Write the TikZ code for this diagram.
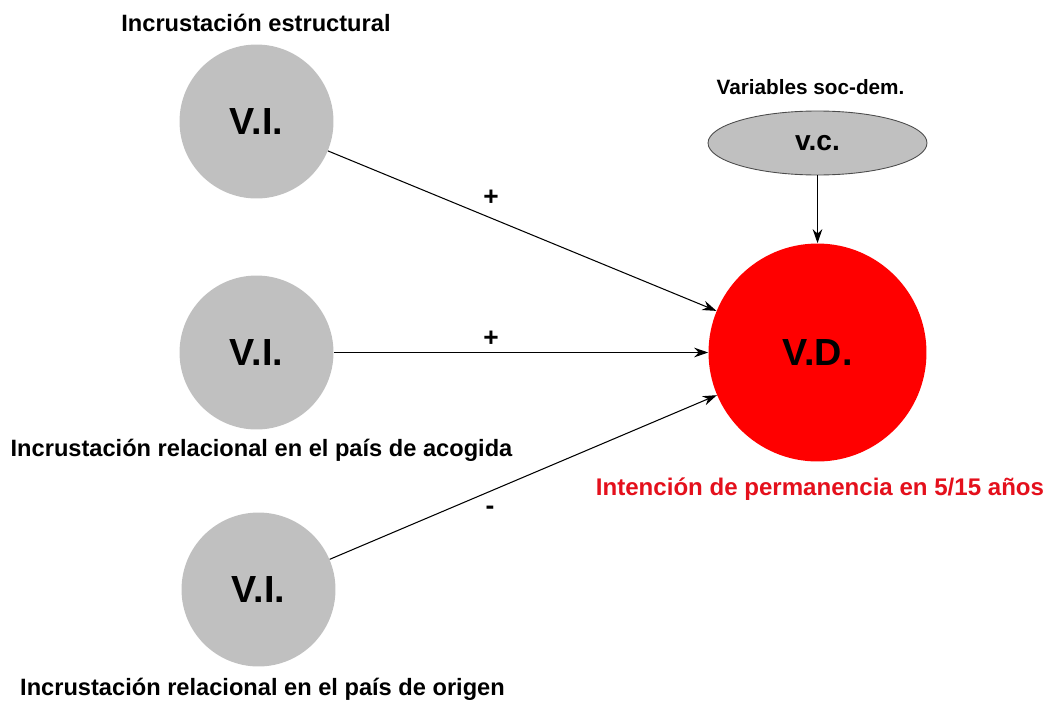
\documentclass[tikz,border=0pt]{standalone}
\usepackage{fontspec}
\setmainfont{Liberation Sans}
\usetikzlibrary{shapes.geometric}
\usetikzlibrary{arrows.meta}

\definecolor{viGray}{RGB}{192,192,192}
\definecolor{vdRed}{RGB}{255,0,0}
\definecolor{labelRed}{RGB}{228,16,28}

\begin{document}
\begin{tikzpicture}
[-,x=0.02cm,y=-0.02cm,%
  lineDecorate/.style={-{Stealth[length=8pt,width=5.5pt]},line width=0.6pt},%
  nodeDecorate/.style={shape=circle,fill=viGray,minimum size=3.08cm,inner sep=0pt,font=\fontsize{21.5}{24}\selectfont\bfseries},%
  textDecorate/.style={font=\fontsize{13.45}{16}\selectfont\bfseries},%
  signDecorate/.style={font=\fontsize{15}{18}\selectfont\bfseries}]
\useasboundingbox (0,0) rectangle (1050,706);
%% nodes
\foreach \nodename/\x/\y in {vi1/256.5/121.5, vi2/256.5/352.5, vi3/258.5/589.5}
{
  \node[nodeDecorate] (\nodename) at (\x,\y) {V.I.};
}
\node[shape=circle,fill=vdRed,minimum size=4.36cm,inner sep=0pt,
  font=\fontsize{21.5}{24}\selectfont\bfseries] (vd) at (817.5,352.5) {V.D.};
\node[shape=ellipse,fill=viGray,draw=black!70,line width=0.5pt,
  minimum width=4.38cm,minimum height=1.28cm,inner sep=0pt,
  font=\fontsize{16}{18}\selectfont\bfseries] (vc) at (817.5,143) {v.c.};
%% node labels
\node[textDecorate] (estr) at (256,23) {Incrustación estructural};
\node[textDecorate] (acog) at (261.5,450) {Incrustación relacional en el país de acogida};
\node[textDecorate] (orig) at (262.5,689) {Incrustación relacional en el país de origen};
\node[textDecorate,font=\fontsize{13.7}{16}\selectfont\bfseries,text=labelRed] (perm) at (820,489) {Intención de permanencia en 5/15 años};
\node[font=\fontsize{11.8}{14}\selectfont\bfseries] (socdem) at (810.5,87) {Variables soc-dem.};
%% signs
\node[signDecorate] (s1) at (491,198) {+};
\node[signDecorate] (s2) at (491,339) {+};
\node[signDecorate] (s3) at (490,510) {-};
%% connect nodes
\path
(vi1) edge[lineDecorate] (vd)
(vi2) edge[lineDecorate] (vd)
(vi3) edge[lineDecorate] (vd)
(vc) edge[lineDecorate] (vd);
\end{tikzpicture}
\end{document}
